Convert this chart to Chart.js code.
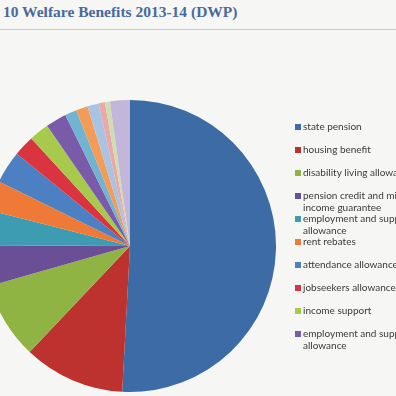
<!DOCTYPE html>
<html lang="en">
<head>
    <meta charset="UTF-8">
    <title>Welfare Benefits 2013-14</title>
    <script src="https://cdn.jsdelivr.net/npm/chart.js"></script>
    <style>
        body {
            margin: 0;
            width: 396px;
            height: 396px;
            overflow: hidden;
            background: #f6f6f4;
            position: relative;
        }
        #titulo {
            position: absolute;
            left: 3px;
            top: 3px;
            font-family: "Liberation Serif", serif;
            font-weight: bold;
            font-size: 15.5px;
            color: #4a699c;
            white-space: nowrap;
        }
        #linha {
            position: absolute;
            left: 0;
            top: 29px;
            width: 396px;
            height: 1px;
            background: #c9c9c9;
        }
        #grafico {
            position: absolute;
            left: -16px;
            top: 100px;
        }
    </style>
</head>
<body>
    <div id="titulo">10 Welfare Benefits 2013-14 (DWP)</div>
    <div id="linha"></div>
    <canvas id="grafico" width="420" height="296"></canvas>

<script>
    // beneficios, em ordem (sentido horario a partir do topo)
    const beneficios = [
        'state pension',
        'housing benefit',
        'disability living allowance',
        ['pension credit and minimum', 'income guarantee'],
        ['employment and support', 'allowance'],
        'rent rebates',
        'attendance allowance',
        'jobseekers allowance',
        'income support',
        ['employment and support', 'allowance'],
        "carer's allowance",
        'winter fuel payments',
        'council tax benefit',
        'bereavement benefits',
        'incapacity benefit',
        'other'
    ];

    // % do total
    const valores = [50.8, 11.2, 8.5, 4.5, 3.9, 3.3, 3.6, 2.3, 2.2, 2.3, 1.3, 1.3, 1.25, 0.7, 0.55, 2.2];

    const cores = [
        '#3c6ba6', '#bd312f', '#8fb443', '#6a4f97', '#3e9cb2', '#ef7a37',
        '#4c80c3', '#d93440', '#a8ca4c', '#7a5ba9', '#70b4d2', '#f59b58',
        '#a9c4e2', '#e9a9aa', '#d0ddb0', '#c2b6da'
    ];

    // so as 10 primeiras couberam na legenda
    const itensLegenda = 10;

    const legendaLateral = {
        id: 'legendaLateral',
        afterDraw(chart) {
            const ctx = chart.ctx;
            ctx.save();
            ctx.font = '10px Lato, sans-serif';
            ctx.textBaseline = 'middle';
            let y = 27;
            for (let i = 0; i < itensLegenda; i++) {
                const linhas = Array.isArray(beneficios[i]) ? beneficios[i] : [beneficios[i]];
                ctx.fillStyle = cores[i];
                ctx.fillRect(311, y - 3, 6, 6);
                ctx.fillStyle = '#3a3a3a';
                linhas.forEach(function (t, k) {
                    ctx.fillText(t, 319, y + k * 11.5);
                });
                y += 23;
            }
            ctx.restore();
        }
    };

    const config = {
        type: 'pie',
        data: {
            labels: beneficios,
            datasets: [{
                data: valores,
                backgroundColor: cores,
                borderWidth: 0
            }]
        },
        options: {
            responsive: false,
            animation: false,
            layout: {
                padding: { top: 0, bottom: 4, left: 0, right: 128 }
            },
            plugins: {
                legend: { display: false },
                tooltip: { enabled: false }
            }
        },
        plugins: [legendaLateral]
    };

    new Chart(document.getElementById('grafico'), config);
</script>
</body>
</html>
